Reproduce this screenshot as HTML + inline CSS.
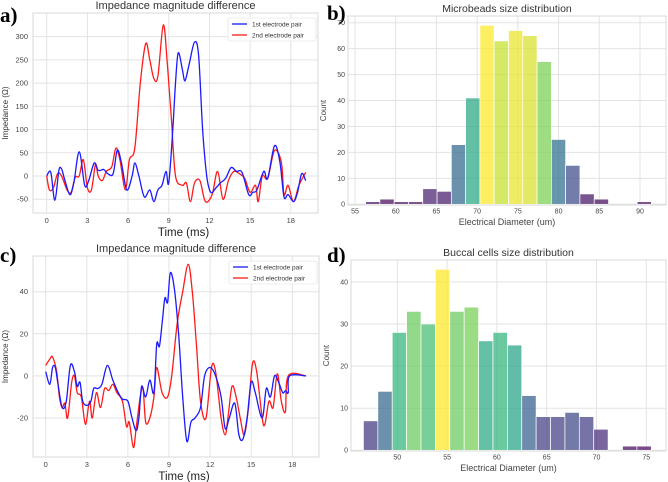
<!DOCTYPE html>
<html><head><meta charset="utf-8"><style>
body{margin:0;background:#fff;width:668px;height:482px;overflow:hidden}
svg{display:block;font-family:"Liberation Sans",sans-serif}
</style></head><body>
<svg id="fig" width="668" height="482">
<text x="0" y="22" font-family="Liberation Serif" font-weight="bold" font-size="21">a)</text>
<text x="327" y="20" font-family="Liberation Serif" font-weight="bold" font-size="21">b)</text>
<text x="0" y="262" font-family="Liberation Serif" font-weight="bold" font-size="21">c)</text>
<text x="327" y="262" font-family="Liberation Serif" font-weight="bold" font-size="21">d)</text>
</svg>
<script>
// Panel a data
const aBlueT=[0,0.3,0.6,0.9,1.1,1.3,1.7,2.0,2.4,2.8,3.1,3.5,3.8,4.2,4.5,4.9,5.2,5.5,5.9,6.3,6.5,6.8,7.2,7.6,7.9,8.2,8.5,8.8,9.0,9.3,9.5,9.7,10.0,10.2,10.5,10.9,11.2,11.5,11.8,12.1,12.5,12.8,13.2,13.6,14.0,14.4,14.9,15.2,15.5,16.0,16.3,16.8,17.2,17.5,17.8,18.2,18.5,18.8,19.1];
const aBlueV=[0,8,-52,12,15,-5,-40,-15,52,-20,-10,28,12,14,5,5,55,30,-30,0,28,0,-45,-30,-55,-30,-20,10,-15,100,200,265,230,205,240,288,260,100,0,-35,-25,-15,-5,18,10,8,-40,-35,-30,10,-5,65,30,-45,-40,-55,-35,5,-10];
const aRedT=[0,0.2,0.5,0.8,1.1,1.5,1.8,2.1,2.4,2.7,3.0,3.3,3.6,3.8,4.1,4.4,4.8,5.1,5.4,5.8,6.1,6.5,6.9,7.3,7.6,7.9,8.2,8.6,8.9,9.2,9.5,10.0,10.3,10.6,10.9,11.3,11.7,12.2,12.6,13.0,13.4,13.8,14.2,14.6,15.0,15.4,15.6,15.9,16.3,16.8,17.3,17.5,17.8,18.2,18.6,19.1];
const aRedV=[0,-30,-25,5,0,-30,-35,-3,0,35,-25,-30,25,0,-10,10,20,60,35,-30,35,60,200,285,250,210,215,325,240,120,0,-20,-15,-55,-15,-10,-55,-40,10,-50,-10,10,5,-5,-35,-20,-55,0,-5,55,30,-40,-20,-55,-20,8];
const aYTicks=[-50,0,50,100,150,200,250,300];
const xTicks=[0,3,6,9,12,15,18];
// Panel c data
const cBlueT=[0,0.3,0.5,0.7,0.9,1.2,1.5,1.8,2.1,2.3,2.5,2.7,3.0,3.3,3.5,3.8,4.1,4.5,4.9,5.3,5.6,6.0,6.3,6.6,6.8,7.0,7.3,7.6,7.9,8.1,8.3,8.5,8.7,8.9,9.1,9.4,9.7,10.0,10.3,10.6,10.9,11.3,11.6,12.0,12.4,12.8,13.1,13.4,13.8,14.1,14.4,14.7,15.0,15.3,15.8,16.1,16.4,16.7,17.0,17.3,17.5,17.7,17.8,19];
const cBlueV=[2,-4,4,4,-4,-15,-12,5,2,-5,-3,-12,-14,-12,-6,-6,-4,5,-2,-8,-11,-12,-20,-26,-20,-5,-10,-2,-8,15,14,25,37,35,49,41,20,-10,-31,-22,-20,-15,0,4,0,-10,-25,-20,-13,-28,-30,-20,-3,-8,-20,-6,-10,0,-3,-8,-7,-8,0,0];
const cRedT=[0,0.3,0.5,0.8,1.0,1.2,1.4,1.6,1.9,2.1,2.3,2.6,2.9,3.2,3.4,3.7,4.0,4.3,4.6,4.9,5.2,5.6,5.9,6.1,6.4,6.6,6.9,7.1,7.3,7.6,7.9,8.1,8.5,8.9,9.2,9.6,10.0,10.4,10.7,11.0,11.3,11.7,12.1,12.4,12.8,13.1,13.3,13.6,13.9,14.2,14.5,14.8,15.1,15.4,15.8,16.0,16.3,16.6,16.9,17.2,17.5,17.7,19];
const cRedV=[5,8,9,2,-10,-15,-13,-20,-3,0,-8,-10,-23,-12,-20,-8,-15,-6,-7,-4,-8,-12,-24,-22,-34,-25,-10,-6,-22,-20,-10,4,-8,-10,0,25,40,53,40,15,-12,-20,4,2,-20,-28,-20,-5,-10,-20,-28,-15,6,2,-20,-23,-12,-15,1,-12,-17,0,0];
const cYTicks=[-20,0,20,40];
// Panel b data
const bCounts=[1,2,1,1,6,5,23,41,69,63,67,65,55,25,15,4,2,0,0,1];
const bStart=56.3, bWidth=1.755;
const bXTicks=[55,60,65,70,75,80,85,90];
const bYTicks=[0,10,20,30,40,50,60,70];
// Panel d data
const dCounts=[7,14,28,33,30,43,33,34,26,28,25,13,8,8,9,8,5,0,1,1];
const dStart=46.6, dWidth=1.445;
const dXTicks=[50,55,60,65,70,75];
const dYTicks=[0,10,20,30,40];

const svg=document.getElementById('fig');
const NS='http://www.w3.org/2000/svg';
function mk(tag,attrs,parent){const e=document.createElementNS(NS,tag);for(const k in attrs)e.setAttribute(k,attrs[k]);(parent||svg).appendChild(e);return e;}
function txt(s,attrs,parent){const e=mk('text',attrs,parent);e.textContent=s;return e;}

function viridis(v){
 const st=[[68,1,84],[72,40,120],[62,74,137],[49,104,142],[38,130,142],[31,158,137],[53,183,121],[109,205,89],[180,222,44],[253,231,37]];
 const p=v*(st.length-1),i=Math.min(Math.floor(p),st.length-2),f=p-i;
 return 'rgb('+st[i].map((c,j)=>Math.round(c+(st[i+1][j]-c)*f)).join(',')+')';
}
function smooth(pts){
 let d='M'+pts[0][0].toFixed(1)+','+pts[0][1].toFixed(1);
 for(let i=0;i<pts.length-1;i++){
  const p0=pts[Math.max(i-1,0)],p1=pts[i],p2=pts[i+1],p3=pts[Math.min(i+2,pts.length-1)];
  const c1=[p1[0]+(p2[0]-p0[0])/6,p1[1]+(p2[1]-p0[1])/6],c2=[p2[0]-(p3[0]-p1[0])/6,p2[1]-(p3[1]-p1[1])/6];
  d+='C'+c1.map(v=>v.toFixed(1)).join(',')+' '+c2.map(v=>v.toFixed(1)).join(',')+' '+p2.map(v=>v.toFixed(1)).join(',');
 }
 return d;
}
function frame(name,x0,x1,y0,y1){
 mk('rect',{x:x0,y:y0,width:x1-x0,height:y1-y0,fill:'none',stroke:'#d8d8d8','stroke-width':1,});
}

function linePanel(p){
 const g=mk('g',{});
 const X=t=>p.x0px+(t-0)*p.xs, Y=v=>p.y0px-v*p.ys;
 for(const t of xTicks){const e=mk('line',{x1:X(t),x2:X(t),y1:p.top,y2:p.bot,stroke:'#e3e3e3'},g);
  const l=txt(String(t),{x:X(t),y:p.bot+10,'font-size':7.5,fill:'#444','text-anchor':'middle'},g);}
 for(const v of p.yt){const e=mk('line',{x1:p.left,x2:p.right,y1:Y(v),y2:Y(v),stroke:'#e3e3e3'},g);
  const l=txt(String(v),{x:p.left-5,y:Y(v)+2.5,'font-size':7.5,fill:'#444','text-anchor':'end'},g);}
 frame(p.name,p.left,p.right,p.top,p.bot);
 const series=[[p.rT,p.rV,'#ff1a1a','red-series'],[p.bT,p.bV,'#1a1aff','blue-series']];
 for(const [T,V,c,n] of series){
  const d=smooth(T.map((t,i)=>[X(t),Y(V[i])]));
  const e=mk('path',{d:d,fill:'none',stroke:c,'stroke-width':1.3,'stroke-linejoin':'round'},g);
  
 }
 const t=txt('Impedance magnitude difference',{x:(p.left+p.right)/2,y:p.top-4,'font-size':11,fill:'#333','text-anchor':'middle'},g);
 const xl=txt('Time (ms)',{x:(p.left+p.right)/2+8,y:p.bot+23,'font-size':11.5,fill:'#222','text-anchor':'middle'},g);
 const cy=(p.top+p.bot)/2;
 const yl=txt('Impedance (Ω)',{x:8,y:cy,'font-size':8,fill:'#333','text-anchor':'middle',transform:'rotate(-90 8 '+cy+')'},g);
 const lg=mk('g',{},g);
 mk('rect',{x:p.right-90,y:p.top+5,width:88,height:23,fill:'#fff',stroke:'#ddd','stroke-width':0.6,rx:2},lg);
 [['1st electrode pair','#1a1aff'],['2nd electrode pair','#ff1a1a']].forEach((it,i)=>{
  const yy=p.top+11+i*11;
  const ln=mk('line',{x1:p.right-86,x2:p.right-71,y1:yy,y2:yy,stroke:it[1],'stroke-width':1.3},lg);
  const lt=txt(it[0],{x:p.right-66,y:yy+2.5,'font-size':6.5,fill:'#333'},lg);
 });
}

function histPanel(p){
 const g=mk('g',{});
 const X=v=>p.xa+(v-p.xv)*p.xs, Y=c=>p.y0px-c*p.ys;
 for(const t of p.xt){const e=mk('line',{x1:X(t),x2:X(t),y1:p.top,y2:p.bot,stroke:'#e3e3e3'},g);
  const l=txt(String(t),{x:X(t),y:p.bot+8.5,'font-size':7,fill:'#444','text-anchor':'middle'},g);}
 for(const v of p.yt){const e=mk('line',{x1:p.left,x2:p.right,y1:Y(v),y2:Y(v),stroke:'#e3e3e3'},g);
  const l=txt(String(v),{x:p.left-3,y:Y(v)+2.4,'font-size':7,fill:'#444','text-anchor':'end'},g);}
 frame(p.name,p.left,p.right,p.top,p.bot);
 const mx=Math.max(...p.counts);
 p.counts.forEach((c,i)=>{
  if(!c)return;
  const x0=X(p.start+i*p.w),x1=X(p.start+(i+1)*p.w);
  const r=mk('rect',{x:x0,y:Y(c),width:x1-x0,height:Y(0)-Y(c),fill:viridis(c/mx),'fill-opacity':0.72,stroke:'#fff','stroke-width':0.7},g);
  
 });
 const t=txt(p.title,{x:(p.left+p.right)/2,y:p.top-4,'font-size':10.5,fill:'#333','text-anchor':'middle'},g);
 const xl=txt('Electrical Diameter (um)',{x:(p.left+p.right)/2,y:p.bot+20,'font-size':9,fill:'#444','text-anchor':'middle'},g);
 const cy=(p.top+p.bot)/2,cx=p.left-22;
 const yl=txt('Count',{x:cx,y:cy,'font-size':8,fill:'#444','text-anchor':'middle',transform:'rotate(-90 '+cx+' '+cy+')'},g);
}

linePanel({name:'panel-a',left:33,right:318,top:13,bot:213,x0px:46.7,xs:13.56,y0px:176,ys:0.4646,yt:aYTicks,bT:aBlueT,bV:aBlueV,rT:aRedT,rV:aRedV});
linePanel({name:'panel-c',left:33,right:319,top:256,bot:457,x0px:45.7,xs:13.7,y0px:375.9,ys:2.105,yt:cYTicks,bT:cBlueT,bV:cBlueV,rT:cRedT,rV:cRedV});
histPanel({name:'panel-b',title:'Microbeads size distribution',left:348,right:666,top:16,bot:205,xa:355,xv:55,xs:8.143,y0px:204.3,ys:2.594,xt:bXTicks,yt:bYTicks,counts:bCounts,start:bStart,w:bWidth});
histPanel({name:'panel-d',title:'Buccal cells size distribution',left:351,right:666,top:260,bot:451,xa:397.3,xv:50,xs:9.96,y0px:450.3,ys:4.21,xt:dXTicks,yt:dYTicks,counts:dCounts,start:dStart,w:dWidth});
</script>
</body></html>
